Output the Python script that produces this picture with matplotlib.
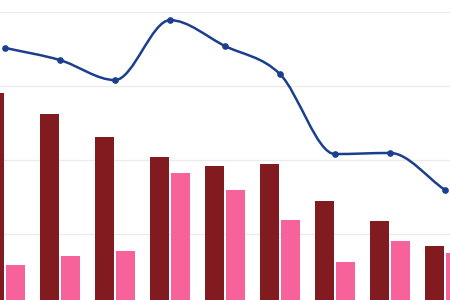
import numpy as np
import matplotlib
matplotlib.use('Agg')
import matplotlib.pyplot as plt
from matplotlib.path import Path
from matplotlib.patches import PathPatch

# values (shared scale, gridlines every 20)
cats = np.arange(9)
dark = [58.1, 52.4, 46.2, 40.8, 38.4, 38.9, 28.9, 23.5, 16.8]
pink = [11.6, 14.1, 15.4, 36.5, 31.9, 23.8, 12.4, 18.1, 14.9]
line = [70.3, 67.0, 61.6, 77.8, 70.8, 63.2, 41.6, 41.9, 31.9]

c_dark = '#821b1f'
c_pink = '#f7629a'
c_line = '#1b3f8e'


def monotone_path(xs, ys):
	xs = np.asarray(xs, float)
	ys = np.asarray(ys, float)
	h = np.diff(xs)
	d = np.diff(ys) / h
	m = np.zeros(len(xs))
	m[0] = d[0]
	m[-1] = d[-1]
	for i in range(1, len(xs) - 1):
		if d[i - 1] * d[i] <= 0:
			m[i] = 0
		else:
			m[i] = (d[i - 1] + d[i]) / 2
	for i in range(len(d)):
		if d[i] == 0:
			m[i] = m[i + 1] = 0
			continue
		a = m[i] / d[i]
		b = m[i + 1] / d[i]
		s = a * a + b * b
		if s > 9:
			t = 3 / np.sqrt(s)
			m[i] = t * a * d[i]
			m[i + 1] = t * b * d[i]
	verts = [(xs[0], ys[0])]
	codes = [Path.MOVETO]
	for i in range(len(d)):
		verts += [(xs[i] + h[i] / 3, ys[i] + m[i] * h[i] / 3),
				  (xs[i + 1] - h[i] / 3, ys[i + 1] - m[i + 1] * h[i] / 3),
				  (xs[i + 1], ys[i + 1])]
		codes += [Path.CURVE4] * 3
	return Path(verts, codes)


fig = plt.figure(figsize=(4.5, 3), dpi=100)
ax = fig.add_axes([0, 0, 1, 1])
ax.set_axis_off()

for g in [20, 40, 60, 80]:
	ax.axhline(g, color='#ebebeb', lw=1, zorder=0)

w = 0.345
ax.bar(cats - 0.027 - w / 2, dark, width=w, color=c_dark, zorder=2)
ax.bar(cats + 0.027 + w / 2, pink, width=w, color=c_pink, zorder=2)

ax.add_patch(PathPatch(monotone_path(cats, line), fill=False,
					   edgecolor=c_line, lw=1.8, zorder=3))
ax.plot(cats, line, 'o', color=c_line, ms=3.8, zorder=4)

ax.set_xlim(-0.091, 8.091)
ax.set_ylim(2.16, 83.24)

fig.savefig('out.png', dpi=100)
